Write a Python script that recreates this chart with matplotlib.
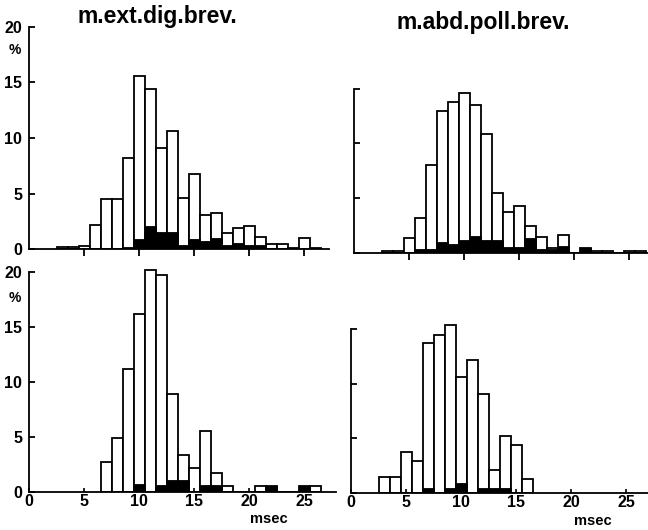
#!/usr/bin/env python3
"""Latency histograms, m.ext.dig.brev. / m.abd.poll.brev. (4 panels)."""
import matplotlib
matplotlib.use("Agg")
import matplotlib.pyplot as plt

plt.rcParams["font.family"] = ["Liberation Sans", "DejaVu Sans"]
plt.rcParams["font.weight"] = "bold"

# --- data (percent per 1-msec bin) ---
bins_tl = list(range(3, 27))
total_tl = [0.15, 0.15, 0.27, 2.2, 4.5, 4.5, 8.2, 15.6, 14.4, 9.1, 10.65, 4.6,
            6.8, 3.07, 3.28, 1.47, 1.92, 2.1, 1.1, 0.42, 0.42, 0.1, 0.96, 0.1]
black_tl = [0, 0, 0, 0, 0, 0, 0.15, 0.93, 2.1, 1.56, 1.56, 0.4,
            0.93, 0.72, 1.02, 0.36, 0.5, 0.36, 0.36, 0.1, 0.1, 0.1, 0.1, 0.1]

bins_tr = list(range(3, 27))
total_tr = [0.15, 0.15, 1.37, 3.2, 8.0, 13.0, 13.8, 14.6, 13.5, 10.9, 5.5, 3.75,
            4.3, 2.4, 1.45, 0.4, 1.65, 0, 0.45, 0.15, 0.15, 0, 0.12, 0.12]
black_tr = [0.1, 0.1, 0, 0.37, 0.37, 0.95, 0.76, 1.2, 1.5, 1.13, 1.13, 0.52,
            0.52, 1.34, 0.37, 0.3, 0.58, 0, 0.4, 0.1, 0.1, 0, 0.1, 0.1]

bins_bl = list(range(7, 27))
total_bl = [2.7, 4.9, 11.2, 16.2, 20.2, 19.7, 8.9, 3.3, 2.2, 5.5, 1.7, 0.5,
            0, 0, 0.5, 0.5, 0, 0, 0.5, 0.5]
black_bl = [0, 0, 0, 0.67, 0, 0.6, 1.06, 1.06, 0, 0.6, 0.6, 0,
            0, 0, 0, 0.5, 0, 0, 0.5, 0]

bins_br = list(range(3, 17))
total_br = [1.45, 1.45, 3.7, 2.95, 13.7, 14.5, 15.4, 10.6, 12.2, 9.1, 2.1, 5.2, 4.4, 1.3]
black_br = [0, 0, 0, 0, 0.45, 0, 0.45, 0.9, 0, 0.42, 0.42, 0.42, 0, 0]

titles = ["m.ext.dig.brev.", "m.abd.poll.brev."]
xticks = [0, 5, 10, 15, 20, 25]
yticks = [0, 5, 10, 15, 20]

W, H = 648, 530
fig = plt.figure(figsize=(W / 100, H / 100), dpi=100)


def make_axes(x0, y0, xmax, pxx, pxy):
    # x0: pixel of x=0, y0: pixel (from top) of y=0
    ymax = 20.6
    return fig.add_axes([x0 / W, (H - y0) / H, xmax * pxx / W, ymax * pxy / H],
                        xlim=(0, xmax), ylim=(0, ymax))


def draw(ax, bins, total, black, top_row, left_col, ytop):
    ax.bar(bins, total, width=1.0, color="white", edgecolor="black", linewidth=1.3)
    ax.bar(bins, black, width=1.0, color="black", edgecolor="black", linewidth=0.6)
    for s in ("top", "right"):
        ax.spines[s].set_visible(False)
    ax.spines["left"].set_bounds(0, ytop)
    ax.spines["left"].set_linewidth(1.3)
    ax.spines["bottom"].set_linewidth(1.3)
    ax.set_yticks(yticks[: yticks.index(ytop) + 1])
    ax.tick_params(axis="y", direction="in", length=4, width=1.3, pad=5,
                   labelsize=11.5, labelleft=left_col)
    if top_row:
        ax.set_xticks(xticks[1:])
        ax.tick_params(axis="x", direction="out", length=5, width=1.3, labelbottom=False)
    else:
        ax.set_xticks(xticks)
        ax.tick_params(axis="x", direction="in", length=3, width=1.2, pad=2, labelsize=11.5)
    for lab in ax.get_xticklabels() + ax.get_yticklabels():
        lab.set_fontweight("bold")


ax_tl = make_axes(29, 249, 27.3, 11.0, 11.1)
ax_tr = make_axes(354, 252.7, 26.8, 11.0, 10.93)
ax_bl = make_axes(29, 491.7, 27.9, 11.0, 11.0)
ax_br = make_axes(351, 492.7, 27.0, 11.0, 10.9)

draw(ax_tl, bins_tl, total_tl, black_tl, True, True, 20)
draw(ax_tr, bins_tr, total_tr, black_tr, True, False, 15)
draw(ax_bl, bins_bl, total_bl, black_bl, False, True, 20)
draw(ax_br, bins_br, total_br, black_br, False, False, 15)

fig.text(157 / W, 1 - 16 / H, titles[0], ha="center", va="center",
         fontsize=16.5, fontweight="bold")
fig.text(483 / W, 1 - 22 / H, titles[1], ha="center", va="center",
         fontsize=16.5, fontweight="bold")
fig.text(15 / W, 1 - 50 / H, "%", ha="center", va="center", fontsize=10, fontweight="bold")
fig.text(15 / W, 1 - 298 / H, "%", ha="center", va="center", fontsize=10, fontweight="bold")
fig.text(269 / W, 1 - 519 / H, "msec", ha="center", va="center", fontsize=10.5, fontweight="bold")
fig.text(593 / W, 1 - 521 / H, "msec", ha="center", va="center", fontsize=10.5, fontweight="bold")

fig.savefig("out.png", dpi=100)
